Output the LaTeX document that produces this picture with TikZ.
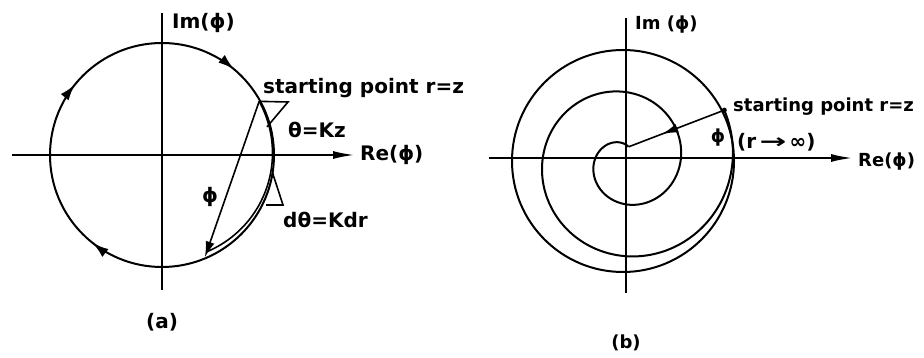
\documentclass[tikz,border=0pt]{standalone}
\usepackage{fontspec}
\setmainfont{DejaVu Sans}
\usetikzlibrary{arrows.meta,decorations.markings}

\tikzset{
  axis/.style={line width=2.2pt},
  axisarrow/.style={line width=2.2pt, -{Latex[length=22pt,width=8pt]}},
  curve/.style={line width=2pt},
  thinline/.style={line width=1.6pt},
  lbl/.style={font=\bfseries\fontsize{20}{24}\selectfont, inner sep=0pt},
  lblb/.style={font=\bfseries\fontsize{18}{22}\selectfont, inner sep=0pt},
  midarrow/.style={postaction={decorate}, decoration={markings,
      mark=at position #1 with {\arrow{Latex[length=16pt,width=9pt]}}}},
}

\begin{document}
\begin{tikzpicture}[x=1pt,y=1pt]
  \useasboundingbox (0,0) rectangle (924,358);

  % (a) circle locus
  \begin{scope}[shift={(162,203)}]
    \coordinate (aL) at (-150,0);
    \coordinate (aR) at (193,0);
    \coordinate (aB) at (0,-135);
    \coordinate (aT) at (0,142);
    \coordinate (aS) at (28.9:111);
    \coordinate (aE) at (-67.3:111);
    \coordinate (aU1) at (126,53);
    \coordinate (aU2) at (15:108.7);
    \coordinate (aD1) at (-9.2:112);
    \coordinate (aD2) at (121,-50);
    \coordinate (aD3) at (104,-50);
    \draw[axis] (aB) -- (aT);
    \draw[axisarrow] (aL) -- (aR);
    \draw[curve, postaction={decorate}, decoration={markings,
        mark=at position 0.111 with {\arrow{Latex[length=16pt,width=10pt]}},
        mark=at position 0.606 with {\arrow{Latex[length=16pt,width=10pt]}},
        mark=at position 0.858 with {\arrow{Latex[length=16pt,width=10pt]}}}]
      (90:112) arc[start angle=90, end angle=-270, radius=112];
    \draw[thinline] (aS) arc[start angle=28.9, end angle=-67.3, radius=107];
    \draw[thinline, -{Latex[length=16pt,width=9pt]}] (aS) -- (aE);
    \draw[thinline] (aS) -- (aU1) -- (aU2);
    \draw[thinline] (aD1) -- (aD2) -- (aD3);
    \node[lbl, anchor=west] (aIm) at (10,132) {Im(ϕ)};
    \node[lbl, anchor=west] (aStart) at (101,67) {starting point r=z};
    \node[lbl] (aTheta) at (155,25) {θ=Kz};
    \node[lbl, anchor=west] (aRe) at (198,0) {Re(ϕ)};
    \node[lbl] (aPhi) at (48,-42) {ϕ};
    \node[lbl, anchor=west] (aDtheta) at (121,-65) {dθ=Kdr};
    \node[lbl] (aCap) at (0,-167) {(a)};
  \end{scope}

  % (b) spiral locus
  \begin{scope}[shift={(626,200)}]
    \coordinate (bL) at (-137,0);
    \coordinate (bR) at (227,0);
    \coordinate (bB) at (0,-135);
    \coordinate (bT) at (0,140);
    \coordinate (bS) at ({-1.5+112*cos(27)},{-3+112*sin(27)});
    \coordinate (bE) at ({-1.5+14.76*cos(73.8)},{-3+14.76*sin(73.8)});
    \draw[axis] (bB) -- (bT);
    \draw[axisarrow] (bL) -- (bR);
    \draw[curve] (-3,-3) circle[radius=111];
    \draw[curve] plot[domain=0:1.87, samples=160, smooth, variable=\t]
      ({-1.5+(112-52*\t)*cos(27-360*\t)}, {-3+(112-52*\t)*sin(27-360*\t)});
    \draw[thinline, midarrow=0.65] (bS) -- (bE);
    \fill (bS) circle[radius=2.5];
    \node[lblb, anchor=west] (bIm) at (9,133) {Im (ϕ)};
    \node[lblb, anchor=west] (bStart) at (107,51) {starting point r=z};
    \node[lblb] (bPhi) at (92,20) {ϕ};
    \node[lbl, anchor=west] (bLim) at (111,16) {(r\,\scalebox{1.6}[1]{→}\,∞)};
    \node[lblb, anchor=west] (bRe) at (232,-4) {Re(ϕ)};
    \node[lblb] (bCap) at (0,-185) {(b)};
  \end{scope}
\end{tikzpicture}
\end{document}
